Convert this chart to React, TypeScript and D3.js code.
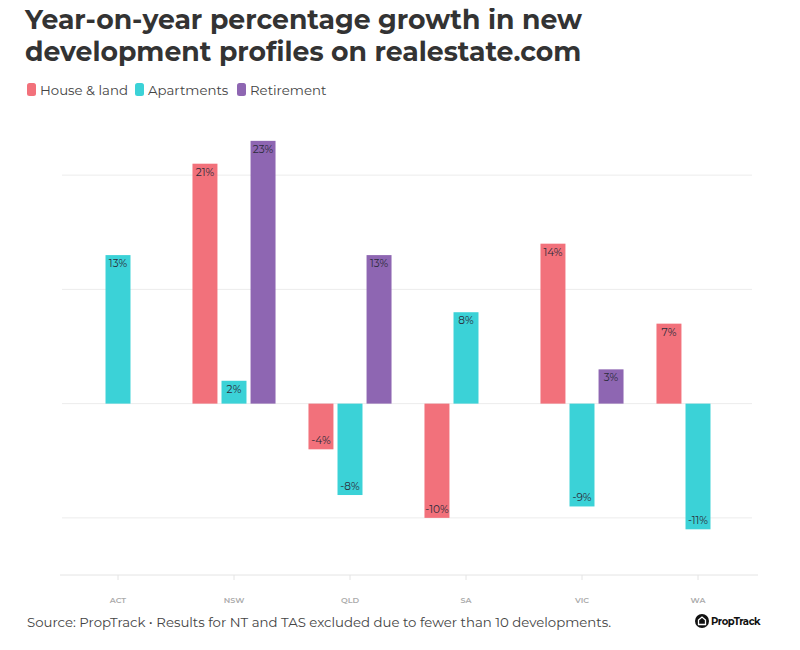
import { useEffect, useRef } from "react";
import * as d3 from "d3";

const states = ["ACT", "NSW", "QLD", "SA", "VIC", "WA"];
const seriesNames = ["House & land", "Apartments", "Retirement"];
const houseLand: (number | null)[] = [null, 21, -4, -10, 14, 7];
const apartments: (number | null)[] = [13, 2, -8, 8, -9, -11];
const retirement: (number | null)[] = [null, 23, 13, null, 3, null];
const colours = ["#f2717b", "#3bd2d7", "#8e66b2"];
const gridValues = [20, 10, 0, -10];

const FONT = "Montserrat, 'Open Sans', 'Noto Sans', sans-serif";

export default function App() {
  const ref = useRef<SVGSVGElement | null>(null);

  useEffect(() => {
    if (!ref.current) return;
    const svg = d3.select(ref.current);
    svg.selectAll("*").remove();

    const width = 800;
    const height = 650;

    svg.append("rect").attr("width", width).attr("height", height).attr("fill", "#fff");

    // title
    const title = svg.append("text")
      .attr("font-family", FONT)
      .attr("font-weight", 700)
      .attr("font-size", 26.7)
      .attr("fill", "#333");
    title.append("tspan").attr("x", 25).attr("y", 29).text("Year-on-year percentage growth in new");
    title.append("tspan").attr("x", 25).attr("y", 61).text("development profiles on realestate.com");

    // legend
    const legendX = [27, 135, 237];
    seriesNames.forEach((name, i) => {
      svg.append("rect")
        .attr("x", legendX[i]).attr("y", 83)
        .attr("width", 9).attr("height", 13).attr("rx", 2.5)
        .attr("fill", colours[i]);
      svg.append("text")
        .attr("x", legendX[i] + 13).attr("y", 94.5)
        .attr("font-family", FONT).attr("font-size", 13.3)
        .attr("fill", "#444")
        .text(name);
    });

    const x0 = d3.scaleBand<string>().domain(states).range([60, 756]).paddingInner(0.284).paddingOuter(0.142);
    const x1 = d3.scaleBand<string>().domain(seriesNames).range([0, x0.bandwidth()]).paddingInner(0.14);
    const y = d3.scaleLinear().domain([-15, 25]).range([575, 118]);

    // grid
    svg.append("g").selectAll("line").data(gridValues).join("line")
      .attr("x1", 62).attr("x2", 752)
      .attr("y1", (d) => y(d)).attr("y2", (d) => y(d))
      .attr("stroke", "#ececec").attr("stroke-width", 1);

    const series = [houseLand, apartments, retirement];
    const bars = series.flatMap((vals, si) =>
      vals.map((v, ci) => ({ state: states[ci], name: seriesNames[si], si, v }))
    ).filter((d) => d.v !== null) as { state: string; name: string; si: number; v: number }[];

    const g = svg.append("g");
    g.selectAll("rect").data(bars).join("rect")
      .attr("x", (d) => (x0(d.state) ?? 0) + (x1(d.name) ?? 0))
      .attr("width", x1.bandwidth())
      .attr("y", (d) => y(Math.max(0, d.v)))
      .attr("height", (d) => Math.abs(y(d.v) - y(0)))
      .attr("fill", (d) => colours[d.si]);

    g.selectAll("text").data(bars).join("text")
      .attr("x", (d) => (x0(d.state) ?? 0) + (x1(d.name) ?? 0) + x1.bandwidth() / 2)
      .attr("y", (d) => (d.v >= 0 ? y(d.v) + 12 : y(d.v) - 5))
      .attr("text-anchor", "middle")
      .attr("font-family", FONT).attr("font-size", 10.5)
      .attr("fill", "#2b2b3a")
      .text((d) => `${d.v}%`);

    // x axis
    svg.append("line")
      .attr("x1", 60).attr("x2", 758)
      .attr("y1", y(-15)).attr("y2", y(-15))
      .attr("stroke", "#e4e4e4");
    const axis = svg.append("g");
    axis.selectAll("line").data(states).join("line")
      .attr("x1", (d) => (x0(d) ?? 0) + x0.bandwidth() / 2)
      .attr("x2", (d) => (x0(d) ?? 0) + x0.bandwidth() / 2)
      .attr("y1", y(-15)).attr("y2", y(-15) + 5)
      .attr("stroke", "#e4e4e4");
    axis.selectAll("text").data(states).join("text")
      .attr("x", (d) => (x0(d) ?? 0) + x0.bandwidth() / 2)
      .attr("y", 603)
      .attr("text-anchor", "middle")
      .attr("font-family", FONT).attr("font-size", 8)
      .attr("font-weight", 600)
      .attr("fill", "#aaa")
      .text((d) => d);

    // footer
    svg.append("text")
      .attr("x", 27).attr("y", 627)
      .attr("font-family", FONT).attr("font-size", 13.3)
      .attr("fill", "#444")
      .text("Source: PropTrack \u2022 Results for NT and TAS excluded due to fewer than 10 developments.");

    const logo = svg.append("g").attr("transform", "translate(702,621)");
    logo.append("circle").attr("r", 7).attr("fill", "#111");
    logo.append("path")
      .attr("d", "M-3.5,3.5 L-3.5,-1 L0,-4 L3.5,-1 L3.5,3.5 Z")
      .attr("fill", "none").attr("stroke", "#fff").attr("stroke-width", 1.3);
    logo.append("text")
      .attr("x", 9).attr("y", 3.5)
      .attr("font-family", FONT).attr("font-size", 10)
      .attr("font-weight", 700).attr("fill", "#111")
      .attr("letter-spacing", -0.4)
      .text("PropTrack");
  }, []);

  return <svg ref={ref} width={800} height={650} style={{ display: "block", margin: -8 }} />;
}
